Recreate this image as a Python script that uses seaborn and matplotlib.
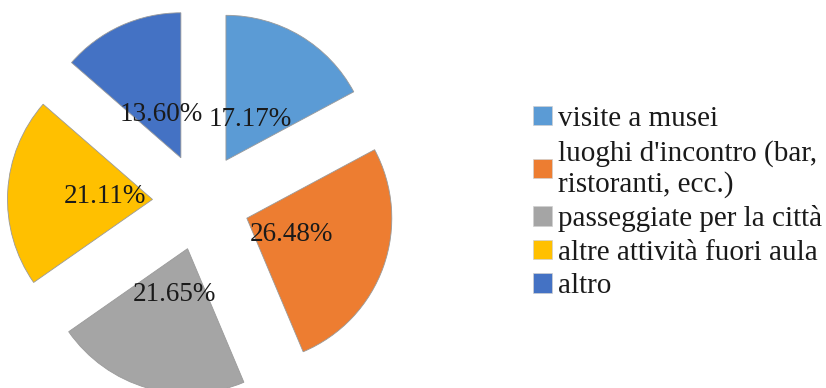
import matplotlib
matplotlib.use("Agg")
import matplotlib.pyplot as plt
import seaborn as sns

categories = [
    "visite a musei",
    "luoghi d'incontro (bar,\nristoranti, ecc.)",
    "passeggiate per la città",
    "altre attività fuori aula",
    "altro",
]
shares = [17.17, 26.48, 21.65, 21.11, 13.60]
colors = ["#5B9BD5", "#ED7D31", "#A5A5A5", "#FFC000", "#4472C4"]

sns.set_style("white")
plt.rcParams["font.family"] = ["Liberation Serif", "DejaVu Serif"]

W, H = 826, 388
fig = plt.figure(figsize=(W / 100, H / 100), dpi=100)

# pie axes: 1 data unit = 145 px, centre at (201, 202) from top-left
scale = 145.0
lim = 1.45
size = 2 * lim * scale
cx, cy = 201.0, H - 202.0
ax = fig.add_axes([(cx - size / 2) / W, (cy - size / 2) / H, size / W, size / H])

wedges, texts, autotexts = ax.pie(
    shares,
    colors=colors,
    startangle=90,
    counterclock=False,
    explode=[0.335] * len(shares),
    autopct="%.2f%%",
    pctdistance=0.33,
    radius=1.0,
    wedgeprops=dict(edgecolor="#9a9a9a", linewidth=0.6),
    textprops=dict(fontsize=19.5, color="#1a1a1a"),
)
ax.set_xlim(-lim, lim)
ax.set_ylim(-lim, lim)
ax.set_aspect("equal")
ax.axis("off")

leg = fig.legend(
    wedges,
    categories,
    loc="upper left",
    bbox_to_anchor=(533 / W, 1 - 106 / H),
    frameon=False,
    fontsize=21,
    handlelength=0.65,
    handleheight=0.65,
    handletextpad=0.2,
    labelspacing=0.26,
    borderpad=0,
    borderaxespad=0,
)
for h in leg.legend_handles:
    h.set_edgecolor("#d0d0d0")
    h.set_linewidth(0.5)
for t in leg.get_texts():
    t.set_color("#1a1a1a")
    t.set_linespacing(1.2)

fig.savefig("out.png", dpi=100)
